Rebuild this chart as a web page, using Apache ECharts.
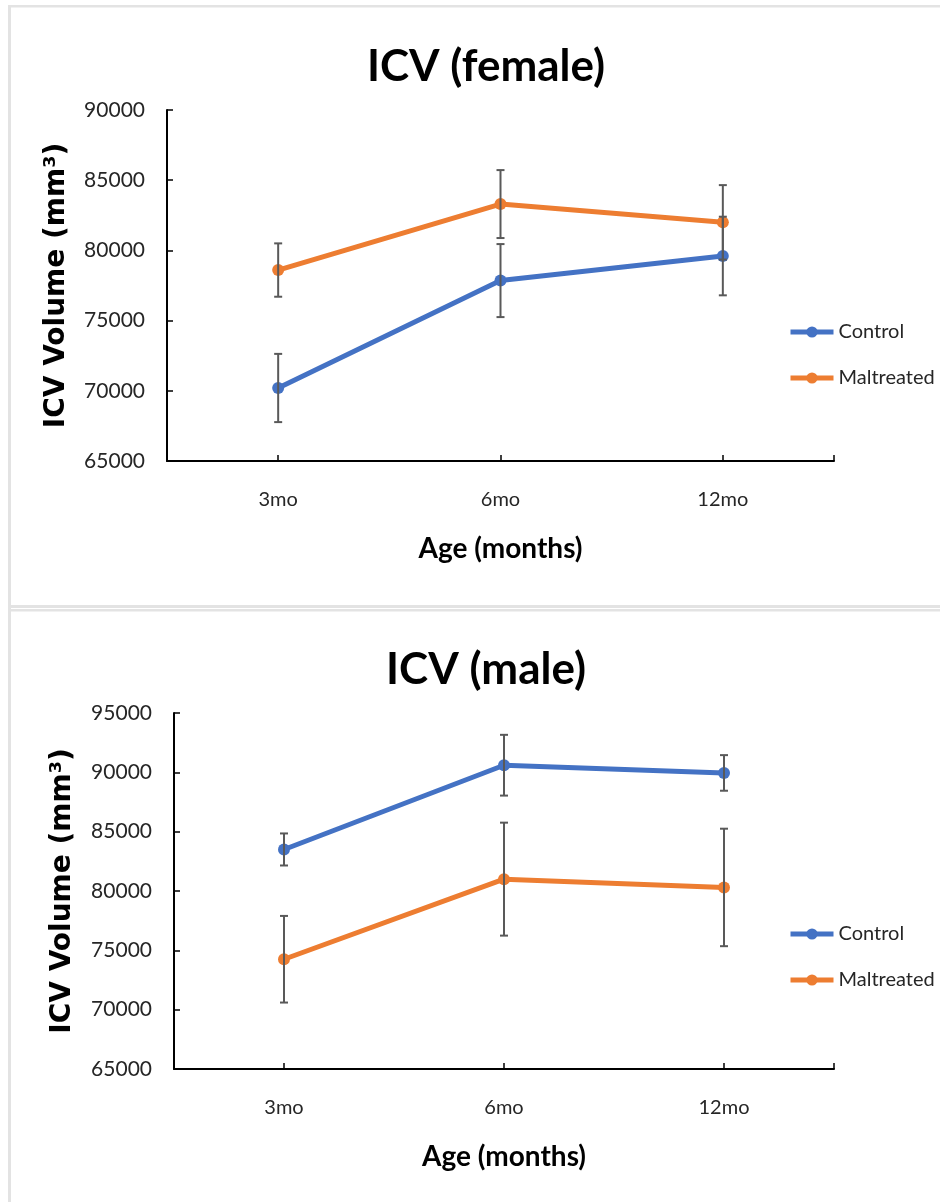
<!DOCTYPE html>
<html>
<head>
<meta charset="utf-8">
<script src="https://cdn.jsdelivr.net/npm/echarts@6/dist/echarts.min.js"></script>
<style>
  html, body { margin: 0; padding: 0; background: #ffffff; }
  #chart { width: 940px; height: 1202px; }
</style>
</head>
<body>
<div id="chart"></div>
<script>
// Age groups on the x axis
const categories = ['3mo', '6mo', '12mo'];

// Female intracranial volume (mean and error, mm³)
const femaleControl = [70200, 77850, 79600];
const femaleControlErr = [2430, 2600, 2800];
const femaleMaltreated = [78600, 83300, 82000];
const femaleMaltreatedErr = [1900, 2420, 2650];

// Male intracranial volume (mean and error, mm³)
const maleControl = [83500, 90600, 89950];
const maleControlErr = [1350, 2560, 1500];
const maleMaltreated = [74250, 81000, 80300];
const maleMaltreatedErr = [3650, 4760, 4950];

// Value axis ranges and tick step
const femaleYRange = [65000, 90000];
const maleYRange = [65000, 95000];
const yStep = 5000;

const seriesNames = ['Control', 'Maltreated'];
const panelTitles = ['ICV (female)', 'ICV (male)'];
const xAxisTitle = 'Age (months)';
const yAxisTitle = 'ICV Volume (mm³)';

const BLUE = '#4472C4';
const ORANGE = '#ED7D31';
const ERR = '#595959';
const TEXT = '#262626';

// Plot areas of the two panels
const grids = [
  { left: 167, top: 110, width: 667, height: 351 },
  { left: 174, top: 713, width: 660, height: 356 }
];

const chart = echarts.init(document.getElementById('chart'), null, { renderer: 'canvas' });

function errorData(mean, err) {
  return mean.map((m, i) => [i, m - err[i], m + err[i]]);
}

function errorSeries(name, mean, err, axisIdx) {
  return {
    type: 'custom',
    name: name,
    xAxisIndex: axisIdx * 2,
    yAxisIndex: axisIdx,
    z: 5,
    silent: true,
    data: errorData(mean, err),
    renderItem: function (params, api) {
      const lo = api.coord([api.value(0), api.value(1)]);
      const hi = api.coord([api.value(0), api.value(2)]);
      const cap = 4;
      const style = { stroke: ERR, lineWidth: 2 };
      return {
        type: 'group',
        children: [
          { type: 'line', shape: { x1: hi[0], y1: hi[1], x2: lo[0], y2: lo[1] }, style: style },
          { type: 'line', shape: { x1: hi[0] - cap, y1: hi[1], x2: hi[0] + cap, y2: hi[1] }, style: style },
          { type: 'line', shape: { x1: lo[0] - cap, y1: lo[1], x2: lo[0] + cap, y2: lo[1] }, style: style }
        ]
      };
    }
  };
}

function lineSeries(name, data, color, axisIdx) {
  return {
    type: 'line',
    name: name,
    xAxisIndex: axisIdx * 2,
    yAxisIndex: axisIdx,
    data: data,
    symbol: 'circle',
    symbolSize: 12,
    showSymbol: true,
    z: 3,
    itemStyle: { color: color },
    lineStyle: { color: color, width: 5 },
    emphasis: { disabled: true }
  };
}

function categoryAxis(gridIndex) {
  return {
    type: 'category',
    gridIndex: gridIndex,
    data: categories,
    boundaryGap: true,
    axisLine: { show: true, lineStyle: { color: '#000', width: 2 } },
    axisTick: { show: true, inside: true, alignWithLabel: true, length: 6, lineStyle: { color: '#000', width: 1.5 } },
    axisLabel: { margin: 29, fontFamily: 'Lato', fontSize: 20, color: TEXT },
    splitLine: { show: false },
    name: xAxisTitle,
    nameLocation: 'middle',
    nameGap: 74,
    nameTextStyle: { fontFamily: 'Lato', fontWeight: 'bold', fontSize: 28, color: '#000' }
  };
}

// Helper axis that only places the tick marks at both ends of the x axis
function edgeTickAxis(gridIndex) {
  return {
    type: 'value',
    gridIndex: gridIndex,
    position: 'bottom',
    min: 0,
    max: 1,
    interval: 1,
    axisLine: { show: false },
    axisTick: { show: true, inside: true, length: 6, lineStyle: { color: '#000', width: 1.5 } },
    axisLabel: { show: false },
    splitLine: { show: false }
  };
}

function valueAxis(gridIndex, range) {
  return {
    type: 'value',
    gridIndex: gridIndex,
    min: range[0],
    max: range[1],
    interval: yStep,
    axisLine: { show: true, lineStyle: { color: '#000', width: 2 } },
    axisTick: { show: true, inside: true, length: 6, lineStyle: { color: '#000', width: 1.5 } },
    axisLabel: {
      margin: 22, fontFamily: 'Lato', fontSize: 21, color: TEXT,
      formatter: function (v) { return String(v); }
    },
    splitLine: { show: false }
  };
}

// Rotated y-axis title placed beside each plot area
function yTitle(gridIndex, offset) {
  const g = grids[gridIndex];
  return {
    type: 'text',
    silent: true,
    x: g.left - offset,
    y: g.top + g.height / 2,
    rotation: Math.PI / 2,
    style: {
      text: yAxisTitle,
      align: 'center',
      verticalAlign: 'middle',
      fontFamily: 'DejaVu Sans',
      fontWeight: 'bold',
      fontSize: 28,
      fill: '#000'
    }
  };
}

function legendFor(top) {
  return {
    data: seriesNames,
    orient: 'vertical',
    left: 783,
    top: top,
    itemWidth: 43,
    itemHeight: 14,
    itemGap: 26,
    selectedMode: false,
    lineStyle: { width: 5 },
    textStyle: { fontFamily: 'Lato', fontSize: 20, color: TEXT }
  };
}

const PANEL_BORDER = '#e3e3e3';

const option = {
  backgroundColor: '#ffffff',
  animation: false,
  title: [
    { text: panelTitles[0], left: 481, top: 40, textAlign: 'center',
      textStyle: { fontFamily: 'Lato', fontWeight: 'bold', fontSize: 44, color: '#000' } },
    { text: panelTitles[1], left: 481, top: 643, textAlign: 'center',
      textStyle: { fontFamily: 'Lato', fontWeight: 'bold', fontSize: 44, color: '#000' } }
  ],
  legend: [legendFor(317), legendFor(919)],
  grid: grids.map(g => Object.assign({ containLabel: false }, g)),
  xAxis: [categoryAxis(0), edgeTickAxis(0), categoryAxis(1), edgeTickAxis(1)],
  yAxis: [valueAxis(0, femaleYRange), valueAxis(1, maleYRange)],
  series: [
    lineSeries(seriesNames[0], femaleControl, BLUE, 0),
    lineSeries(seriesNames[1], femaleMaltreated, ORANGE, 0),
    errorSeries('Control error (female)', femaleControl, femaleControlErr, 0),
    errorSeries('Maltreated error (female)', femaleMaltreated, femaleMaltreatedErr, 0),
    lineSeries(seriesNames[0], maleControl, BLUE, 1),
    lineSeries(seriesNames[1], maleMaltreated, ORANGE, 1),
    errorSeries('Control error (male)', maleControl, maleControlErr, 1),
    errorSeries('Maltreated error (male)', maleMaltreated, maleMaltreatedErr, 1)
  ],
  graphic: [
    // panel frames
    { type: 'rect', silent: true, shape: { x: 8, y: 5, width: 3, height: 1197 }, style: { fill: PANEL_BORDER } },
    { type: 'rect', silent: true, shape: { x: 8, y: 5, width: 932, height: 2.5 }, style: { fill: PANEL_BORDER } },
    { type: 'rect', silent: true, shape: { x: 8, y: 605, width: 932, height: 3 }, style: { fill: PANEL_BORDER } },
    { type: 'rect', silent: true, shape: { x: 8, y: 609, width: 932, height: 2.5 }, style: { fill: PANEL_BORDER } },
    yTitle(0, 110),
    yTitle(1, 111)
  ]
};

chart.setOption(option);
</script>
</body>
</html>
